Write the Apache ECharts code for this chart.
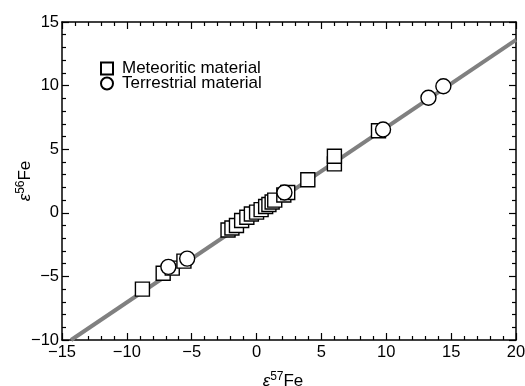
<!DOCTYPE html>
<html>
<head>
<meta charset="utf-8">
<script src="https://cdn.jsdelivr.net/npm/echarts@6/dist/echarts.min.js"></script>
<style>
  html, body {margin: 0; padding: 0; background: #fff;}
  #chart {width: 525px; height: 386px;}
</style>
</head>
<body>
<div id="chart"></div>
<script>
// ε57Fe, ε56Fe pairs
var meteoritic = [
  [-8.8, -6.0], [-7.2, -4.75], [-6.5, -4.35], [-5.6, -3.8],
  [-2.2, -1.35], [-1.9, -1.2], [-1.55, -1.0], [-1.15, -0.6],
  [-0.75, -0.35], [-0.4, -0.1], [0.0, 0.05], [0.35, 0.25],
  [0.7, 0.5], [0.95, 0.65], [1.2, 0.85], [1.4, 1.0],
  [2.1, 1.4], [2.4, 1.6], [3.95, 2.6], [6.0, 3.85], [6.0, 4.45], [9.4, 6.45]
];
var terrestrial = [
  [-6.8, -4.25], [-5.35, -3.6], [2.15, 1.6], [9.75, 6.55], [13.25, 9.05], [14.4, 9.95]
];
var fitLine = [[-14.3, -10], [20, 13.6]];

var xTicks = [-15, -10, -5, 0, 5, 10, 15, 20];
var yTicks = [-10, -5, 0, 5, 10, 15];

var font = 'Liberation Sans, Arial, Helvetica, sans-serif';
function fmt(v) {
  return v < 0 ? '\u2212' + Math.abs(v) : String(v);
}

var myChart = echarts.init(document.getElementById('chart'));

var baseAxis = {
  interval: 5,
  axisLine: {show: true, onZero: false, lineStyle: {color: '#000', width: 1.5}},
  axisTick: {show: true, inside: true, length: 7, lineStyle: {color: '#000', width: 1.2}},
  minorTick: {show: true, splitNumber: 5, length: 4, lineStyle: {color: '#000', width: 1.2}},
  splitLine: {show: false},
  axisLabel: {color: '#000', fontSize: 16.5, fontFamily: font, formatter: fmt}
};

var nameRich = {
  e: {fontSize: 17, fontStyle: 'italic', fontFamily: font, color: '#000'},
  s: {fontSize: 12, fontFamily: font, color: '#000', padding: [0, 0, 8, 0]},
  t: {fontSize: 17, fontFamily: font, color: '#000'}
};

myChart.setOption({
  animation: false,
  grid: {left: 62, right: 9, top: 22, bottom: 46, containLabel: false, outerBoundsMode: 'none'},
  legend: {
    orient: 'vertical',
    left: 95,
    top: 55,
    itemWidth: 12,
    itemHeight: 12,
    itemGap: -2,
    textStyle: {color: '#000', fontSize: 17, fontFamily: font, padding: [0, 0, 0, 4]},
    data: ['Meteoritic material', 'Terrestrial material']
  },
  xAxis: [
    Object.assign({}, baseAxis, {
      type: 'value', min: xTicks[0], max: xTicks[xTicks.length - 1], position: 'bottom',
      axisLabel: Object.assign({}, baseAxis.axisLabel, {margin: 4}),
      name: '{e|ε}{s|57}{t|Fe}',
      nameLocation: 'middle',
      nameGap: 31,
      nameMoveOverlap: false,
      nameTextStyle: {rich: nameRich, padding: [0, 12, 0, 0]}
    }),
    Object.assign({}, baseAxis, {
      type: 'value', min: xTicks[0], max: xTicks[xTicks.length - 1], position: 'top',
      axisLabel: {show: false}
    })
  ],
  yAxis: [
    Object.assign({}, baseAxis, {
      type: 'value', min: yTicks[0], max: yTicks[yTicks.length - 1], position: 'left',
      axisLabel: Object.assign({}, baseAxis.axisLabel, {margin: 3}),
      name: '{e|ε}{s|56}{t|Fe}',
      nameLocation: 'middle',
      nameGap: 27,
      nameRotate: 90,
      nameMoveOverlap: false,
      nameTextStyle: {rich: nameRich}
    }),
    Object.assign({}, baseAxis, {
      type: 'value', min: yTicks[0], max: yTicks[yTicks.length - 1], position: 'right',
      axisLabel: {show: false}
    })
  ],
  series: [
    {
      name: 'fit',
      type: 'line',
      data: fitLine,
      symbol: 'none',
      lineStyle: {color: '#808080', width: 4},
      z: 1
    },
    {
      name: 'Meteoritic material',
      type: 'scatter',
      data: meteoritic,
      symbol: 'rect',
      symbolSize: 14,
      itemStyle: {color: '#fff', borderColor: '#000', borderWidth: 1.4, opacity: 1},
      z: 2
    },
    {
      name: 'Terrestrial material',
      type: 'scatter',
      data: terrestrial,
      symbol: 'circle',
      symbolSize: 15,
      itemStyle: {color: '#fff', borderColor: '#000', borderWidth: 1.4, opacity: 1},
      z: 3
    }
  ]
});
</script>
</body>
</html>
